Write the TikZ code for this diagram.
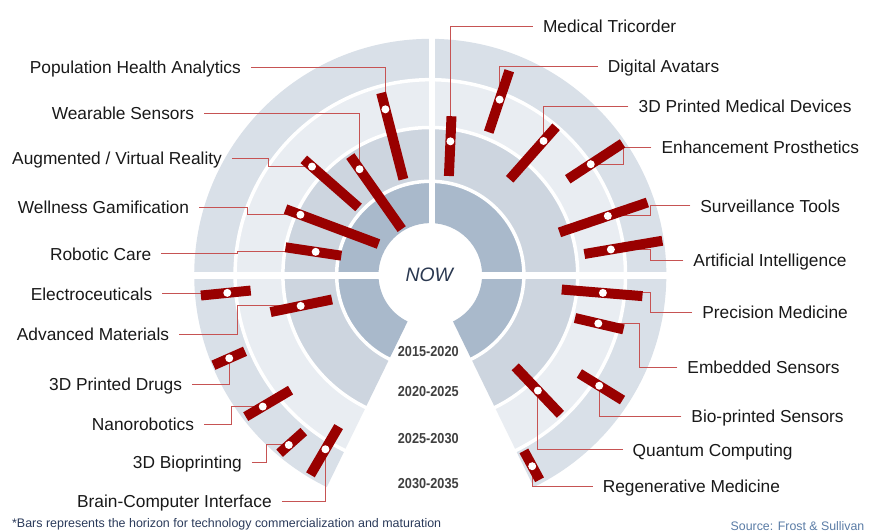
\documentclass[tikz,border=0pt]{standalone}
\usepackage{fontspec}
\setmainfont{Liberation Sans}

\definecolor{ringA}{HTML}{A9B9CB} % innermost band
\definecolor{ringB}{HTML}{CDD5DF}
\definecolor{ringC}{HTML}{E9EDF2}
\definecolor{ringD}{HTML}{D9E0E8} % outer band
\definecolor{barred}{HTML}{990000}
\definecolor{leadred}{HTML}{C65353}
\definecolor{notecol}{HTML}{2B3B5B}
\definecolor{srccol}{HTML}{5A7CA6}
\definecolor{nowcol}{HTML}{2A3850}

\tikzset{x=1pt, y=1pt, % one unit is one point
bar/.style={line width=10pt, barred}, % the thick bars
leader/.style={line width=1pt, leadred}, % thin lines from the names to the bars
tech/.style={font=\fontsize{17.4}{20}\selectfont, text=black!90, inner xsep=10pt, inner ysep=0pt, text height=12.5pt, text depth=0pt},
years/.style={font=\fontsize{14.5}{16}\selectfont\bfseries, text=black!75, inner sep=0pt},
}

% one band of the wheel: colour, start angle, end angle, inner and outer radius
\newcommand{\band}[5]{\fill[#1] (#2:#5) arc[start angle=#2, end angle=#3, radius=#5] -- (#3:#4) arc[start angle=#3, end angle=#2, radius=#4] -- cycle;}

\begin{document}
\begin{tikzpicture}
    \fill[white] (0,0) rectangle (869,-534);

    % bar ends and the point where the white dot sits
    \foreach \n/\ax/\ay/\bx/\by/\p in {
      pha/382.7/93.3/405/180/.19, wear/351.7/156.7/403.3/230/.18,
      arvr/305/160/360/208.3/.15, well/286.7/210/380/245/.16,
      robo/286.7/248.3/342.7/256.7/.54, elec/201.7/296.7/251.7/291.7/.53,
      adv/271.7/313.3/333.3/300.7/.49, drug/214.3/366.7/246/352.7/.5,
      nano/246.7/418.3/291.7/391.7/.38, biop/280.7/455/305/433.3/.38,
      bci/311.7/476.7/340/428.3/.53, tric/453.3/116.7/450.7/176.7/.42,
      avat/511.3/71/490.7/132.7/.47, pmd/558.3/127.3/511.7/180/.27,
      enh/625/144/570/180/.58, surv/650/203.3/561.7/233.3/.45,
      ai/665/241.7/586.7/255/.66, prec/645/297.3/564/290.7/.49,
      emb/626/330.7/577.3/319.3/.52, bios/581.7/375/625/401.7/.46,
      quan/517.3/368.3/562.7/416/.5, rege/526/452.7/541.7/481.7/.53}
      \path (\ax,-\ay) coordinate (\n-a) -- coordinate[pos=\p] (\n) (\bx,-\by) coordinate (\n-b);

    % the wheel
    \begin{scope}[shift={(432,-276)}]
      \foreach \c/\ri/\ro in {ringA/52/94, ringB/94/148, ringC/148/196, ringD/196/237}{
        \band{\c}{0}{180}{\ri}{\ro}
        \band{\c}{180}{244}{\ri}{\ro}
        \band{\c}{296}{360}{\ri}{\ro}
      }
      \foreach \r in {94,148,196}
        \draw[white, line width=3.5pt] (0,0) circle (\r);
      \fill[white] (-250,3) rectangle (250,-4);
      \fill[white] (-1,0) rectangle (5,250);
    \end{scope}

    \node[font=\fontsize{19.5}{22}\selectfont\itshape, text=nowcol] (now) at (431,-276) {NOW};
    \node[years] (y1) at (430,-352.7) {\scalebox{.88}[1]{2015-2020}};
    \node[years] (y2) at (430,-392.7) {\scalebox{.88}[1]{2020-2025}};
    \node[years] (y3) at (430,-440) {\scalebox{.88}[1]{2025-2030}};
    \node[years] (y4) at (430,-485) {\scalebox{.88}[1]{2030-2035}};

    % names on the left
    \node[tech, left] (pha-t) at (252,-68) {Population Health Analytics};
    \node[tech, left] (wear-t) at (205,-114) {Wearable Sensors};
    \node[tech, left] (arvr-t) at (233,-159) {Augmented / Virtual Reality};
    \node[tech, left] (well-t) at (200,-208) {Wellness Gamification};
    \node[tech, left] (robo-t) at (162,-255) {Robotic Care};
    \node[tech, left] (elec-t) at (163,-295) {Electroceuticals};
    \node[tech, left] (adv-t) at (180,-336) {Advanced Materials};
    \node[tech, left] (drug-t) at (193,-386) {3D Printed Drugs};
    \node[tech, left] (nano-t) at (205,-426) {Nanorobotics};
    \node[tech, left] (biop-t) at (253,-464) {3D Bioprinting};
    \node[tech, left] (bci-t) at (283,-503) {Brain-Computer Interface};
    % names on the right
    \node[tech, right] (tric-t) at (535,-26.7) {Medical Tricorder};
    \node[tech, right] (avat-t) at (600,-66.7) {Digital Avatars};
    \node[tech, right] (pmd-t) at (631,-106.7) {3D Printed Medical Devices};
    \node[tech, right] (enh-t) at (654,-148.3) {Enhancement Prosthetics};
    \node[tech, right] (surv-t) at (693,-206.7) {Surveillance Tools};
    \node[tech, right] (ai-t) at (686,-261.7) {Artificial Intelligence};
    \node[tech, right] (prec-t) at (695,-313.3) {Precision Medicine};
    \node[tech, right] (emb-t) at (680,-369) {Embedded Sensors};
    \node[tech, right] (bios-t) at (684,-418.3) {Bio-printed Sensors};
    \node[tech, right] (quan-t) at (625,-451.7) {Quantum Computing};
    \node[tech, right] (rege-t) at (595,-488.3) {Regenerative Medicine};

    \draw[leader] (pha-t.east) -| (pha);
    \draw[leader] (wear-t.east) -| (wear);
    \draw[leader] (arvr-t.east) -- ++(37,0) |- (arvr);
    \draw[leader] (well-t.east) -- ++(48,0) |- (well);
    \draw[leader] (robo-t.east) -- ++(76,0) |- (robo);
    \draw[leader] (elec-t.east) -| (elec);
    \draw[leader] (adv-t.east) -- ++(58,0) |- (adv);
    \draw[leader] (drug-t.east) -| (drug);
    \draw[leader] (nano-t.east) -- ++(27,0) |- (nano);
    \draw[leader] (biop-t.east) -- ++(15,0) |- (biop);
    \draw[leader] (bci-t.east) -| (bci);
    \draw[leader] (tric-t.west) -| (tric);
    \draw[leader] (avat-t.west) -| (avat);
    \draw[leader] (pmd-t.west) -| (pmd);
    \draw[leader] (enh-t.west) -- ++(-28,0) |- (enh);
    \draw[leader] (surv-t.west) -- ++(-40,0) |- (surv);
    \draw[leader] (ai-t.west) -- ++(-33,0) |- (ai);
    \draw[leader] (prec-t.west) -- ++(-42,0) |- (prec);
    \draw[leader] (emb-t.west) -- ++(-38,0) |- (emb);
    \draw[leader] (bios-t.west) -| (bios);
    \draw[leader] (quan-t.west) -| (quan);
    \draw[leader] (rege-t.west) -| (rege);

    % bars with their dots
    \foreach \n in {pha,wear,arvr,well,robo,elec,adv,drug,nano,biop,bci,tric,avat,pmd,enh,surv,ai,prec,emb,bios,quan,rege}{
      \draw[bar] (\n-a) -- (\n-b);
      \fill[white] (\n) circle (4);
    }

    \node[anchor=west, inner sep=0pt, text=notecol, font=\fontsize{12.5}{14}\selectfont, text height=9pt, text depth=0pt] (note) at (12,-525) {*Bars represents the horizon for technology commercialization and maturation};
    \node[anchor=east, inner sep=0pt, text=srccol, font=\fontsize{12.4}{14}\selectfont, text height=9pt, text depth=0pt] (src) at (868,-528) {Source: Frost \& Sullivan};
\end{tikzpicture}
\end{document}
